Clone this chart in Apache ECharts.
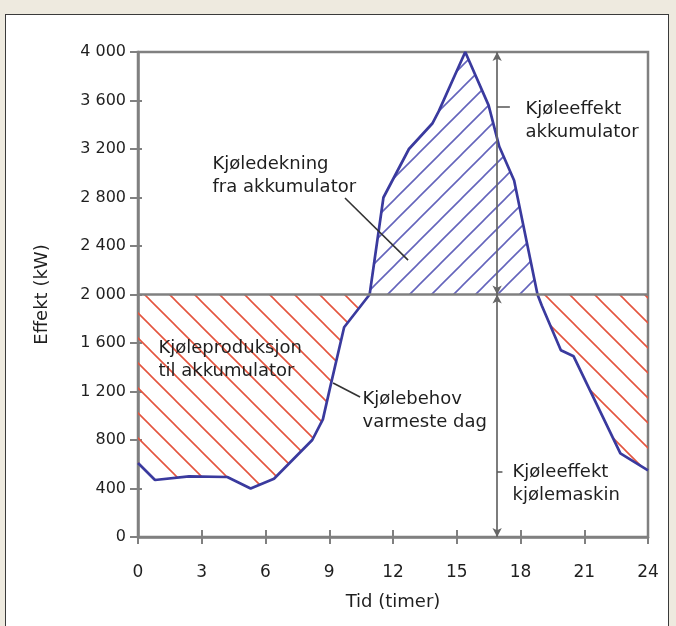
<!DOCTYPE html>
<html><head><meta charset="utf-8">
<script src="https://cdn.jsdelivr.net/npm/echarts@6/dist/echarts.min.js"></script>
<style>
html,body{margin:0;padding:0;background:#eeeadf;width:676px;height:626px;overflow:hidden;}
#frame{position:absolute;left:5px;top:14px;width:664px;height:620px;background:#fff;border:1.5px solid #3a3a3a;box-sizing:border-box;}
#chart{position:absolute;left:0;top:0;width:676px;height:626px;}
</style></head><body><div id="frame"></div><div id="chart"></div>
<script>
// ---- data ----
const hours    = [0, 0.8, 2.4, 4.2, 5.3, 6.4, 8.2, 8.7, 9.05, 9.7, 10.9, 11.55, 12.75, 13.85, 14.15, 15.4, 16.5, 17.0, 17.7, 18.8, 19.0, 19.9, 20.5, 22.7, 24];
const demandKW = [610, 470, 500, 495, 400, 480, 800, 970, 1240, 1730, 2000, 2800, 3200, 3410, 3510, 4000, 3560, 3220, 2940, 2000, 1910, 1540, 1490, 690, 550];
const machineCapacityKW = 2000;
const xTickValues = [0, 3, 6, 9, 12, 15, 18, 21, 24];
const yTickValues = [0, 400, 800, 1200, 1600, 2000, 2400, 2800, 3200, 3600, 4000];
const arrowHour = 16.9;
const labelTexts = {
  coverage: 'Kjøledekning\nfra akkumulator',
  accEffect: 'Kjøleeffekt\nakkumulator',
  production: 'Kjøleproduksjon\ntil akkumulator',
  demand: 'Kjølebehov\nvarmeste dag',
  machineEffect: 'Kjøleeffekt\nkjølemaskin'
};
const xName = 'Tid (timer)';
const yName = 'Effekt (kW)';

// ---- styling helpers ----
const FONT = 'DejaVu Sans';
const TXT = '#1f1f1f';
const FRAME = '#808080';
function hatch(color, size, dir) {
  const c = document.createElement('canvas');
  c.width = size; c.height = size;
  const g = c.getContext('2d');
  g.strokeStyle = color; g.lineWidth = 1.6;
  g.beginPath();
  if (dir === 'back') {
    g.moveTo(-3, -3); g.lineTo(size + 3, size + 3);
    g.moveTo(-3, size - 3); g.lineTo(3, size + 3);
    g.moveTo(size - 3, -3); g.lineTo(size + 3, 3);
  } else {
    g.moveTo(-3, size + 3); g.lineTo(size + 3, -3);
    g.moveTo(-3, 3); g.lineTo(3, -3);
    g.moveTo(size - 3, size + 3); g.lineTo(size + 3, size - 3);
  }
  g.stroke();
  return c;
}
const redPattern = { image: hatch('#e4553f', 25, 'back'), repeat: 'repeat' };
const bluePattern = { image: hatch('#6464bc', 22, 'fwd'), repeat: 'repeat' };

const demandPts = hours.map((h, i) => [h, demandKW[i]]);
const belowPts = hours.map((h, i) => [h, Math.min(demandKW[i], machineCapacityKW)]);
const abovePts = hours.map((h, i) => [h, Math.max(demandKW[i], machineCapacityKW)]);

function fmtY(v) {
  if (v >= 1000) return Math.floor(v / 1000) + ' ' + String(v % 1000).padStart(3, '0');
  return String(v);
}
const textLabel = (coord, text) => ({
  coord: coord, value: 0,
  label: { formatter: text }
});

const chart = echarts.init(document.getElementById('chart'), null, { renderer: 'canvas' });
const baseX = {
  type: 'value', min: 0, max: 24, interval: 3, position: 'bottom',
  splitLine: { show: false }
};
const baseY = {
  type: 'value', min: 0, max: 4000, interval: 400, position: 'left',
  splitLine: { show: false }
};
chart.setOption({
  animation: false,
  backgroundColor: 'transparent',
  textStyle: { fontFamily: FONT },
  grid: {
    left: 138, top: 52, width: 510, height: 485,
    show: true, borderColor: FRAME, borderWidth: 2.5, backgroundColor: 'transparent'
  },
  xAxis: [
    Object.assign({}, baseX, {
      name: xName, nameLocation: 'middle', nameGap: 56,
      nameTextStyle: { fontFamily: FONT, fontSize: 18, color: TXT },
      axisLine: { show: true, lineStyle: { color: FRAME, width: 2.5 } },
      axisTick: { show: true, length: 7, lineStyle: { color: FRAME, width: 2 } },
      axisLabel: { margin: 27, fontFamily: FONT, fontSize: 17, color: TXT,
        customValues: xTickValues }
    }),
    Object.assign({}, baseX, {
      axisLine: { show: false },
      axisTick: { show: true, inside: true, length: 7, lineStyle: { color: FRAME, width: 2 } },
      axisLabel: { show: false }
    })
  ],
  yAxis: [
    Object.assign({}, baseY, {
      name: yName, nameLocation: 'middle', nameGap: 87,
      nameTextStyle: { fontFamily: FONT, fontSize: 18, color: TXT },
      axisLine: { show: true, lineStyle: { color: FRAME, width: 2.5 } },
      axisTick: { show: true, length: 8, lineStyle: { color: FRAME, width: 2 } },
      axisLabel: { margin: 12, fontFamily: FONT, fontSize: 16, color: TXT,
        formatter: fmtY }
    }),
    Object.assign({}, baseY, {
      axisLine: { show: false },
      axisTick: { show: true, inside: true, length: 4, lineStyle: { color: FRAME, width: 2 } },
      axisLabel: { show: false }
    })
  ],
  series: [
    {
      name: 'below', type: 'line', data: belowPts, symbol: 'none', silent: true, z: 1,
      lineStyle: { width: 0, opacity: 0 },
      areaStyle: { color: redPattern, origin: machineCapacityKW, opacity: 1 }
    },
    {
      name: 'above', type: 'line', data: abovePts, symbol: 'none', silent: true, z: 1,
      lineStyle: { width: 0, opacity: 0 },
      areaStyle: { color: bluePattern, origin: machineCapacityKW, opacity: 1 }
    },
    {
      name: 'frameLines', type: 'line', data: [], symbol: 'none', z: 3,
      markLine: {
        silent: true, animation: false,
        label: { show: false },
        data: [
          [{ coord: [0, machineCapacityKW], symbol: 'none' }, { coord: [24, machineCapacityKW], symbol: 'none', lineStyle: { color: FRAME, width: 2.5, type: 'solid' } }],
          [{ coord: [arrowHour, 4000], symbol: 'arrow', symbolSize: [7, 9] }, { coord: [arrowHour, machineCapacityKW], symbol: 'arrow', symbolSize: [7, 9], lineStyle: { color: '#666', width: 1.7, type: 'solid' } }],
          [{ coord: [arrowHour, machineCapacityKW], symbol: 'arrow', symbolSize: [7, 9] }, { coord: [arrowHour, 0], symbol: 'arrow', symbolSize: [7, 9], lineStyle: { color: '#666', width: 1.7, type: 'solid' } }],
          [{ coord: [arrowHour, 3546], symbol: 'none' }, { coord: [17.5, 3546], symbol: 'none', lineStyle: { color: '#555', width: 1.5, type: 'solid' } }],
          [{ coord: [arrowHour, 536], symbol: 'none' }, { coord: [17.15, 536], symbol: 'none', lineStyle: { color: '#555', width: 1.5, type: 'solid' } }],
          [{ coord: [9.74, 2796], symbol: 'none' }, { coord: [12.71, 2284], symbol: 'none', lineStyle: { color: '#333', width: 1.6, type: 'solid' } }],
          [{ coord: [9.18, 1270], symbol: 'none' }, { coord: [10.45, 1155], symbol: 'none', lineStyle: { color: '#333', width: 1.6, type: 'solid' } }]
        ]
      }
    },
    {
      name: 'demand', type: 'line', data: demandPts, symbol: 'none', z: 4,
      lineStyle: { color: '#3a3a9e', width: 2.7 },
      markPoint: {
        silent: true, animation: false,
        symbol: 'circle', symbolSize: 1,
        itemStyle: { color: 'rgba(0,0,0,0)' },
        label: {
          show: true, position: 'right', distance: 0, align: 'left', verticalAlign: 'middle',
          fontFamily: FONT, fontSize: 18, lineHeight: 23, color: TXT
        },
        data: [
          textLabel([3.48, 2981], labelTexts.coverage),
          textLabel([18.21, 3431], labelTexts.accEffect),
          textLabel([0.94, 1460], labelTexts.production),
          textLabel([10.54, 1039], labelTexts.demand),
          textLabel([17.6, 437], labelTexts.machineEffect)
        ]
      }
    }
  ]
});
</script>
</body></html>
